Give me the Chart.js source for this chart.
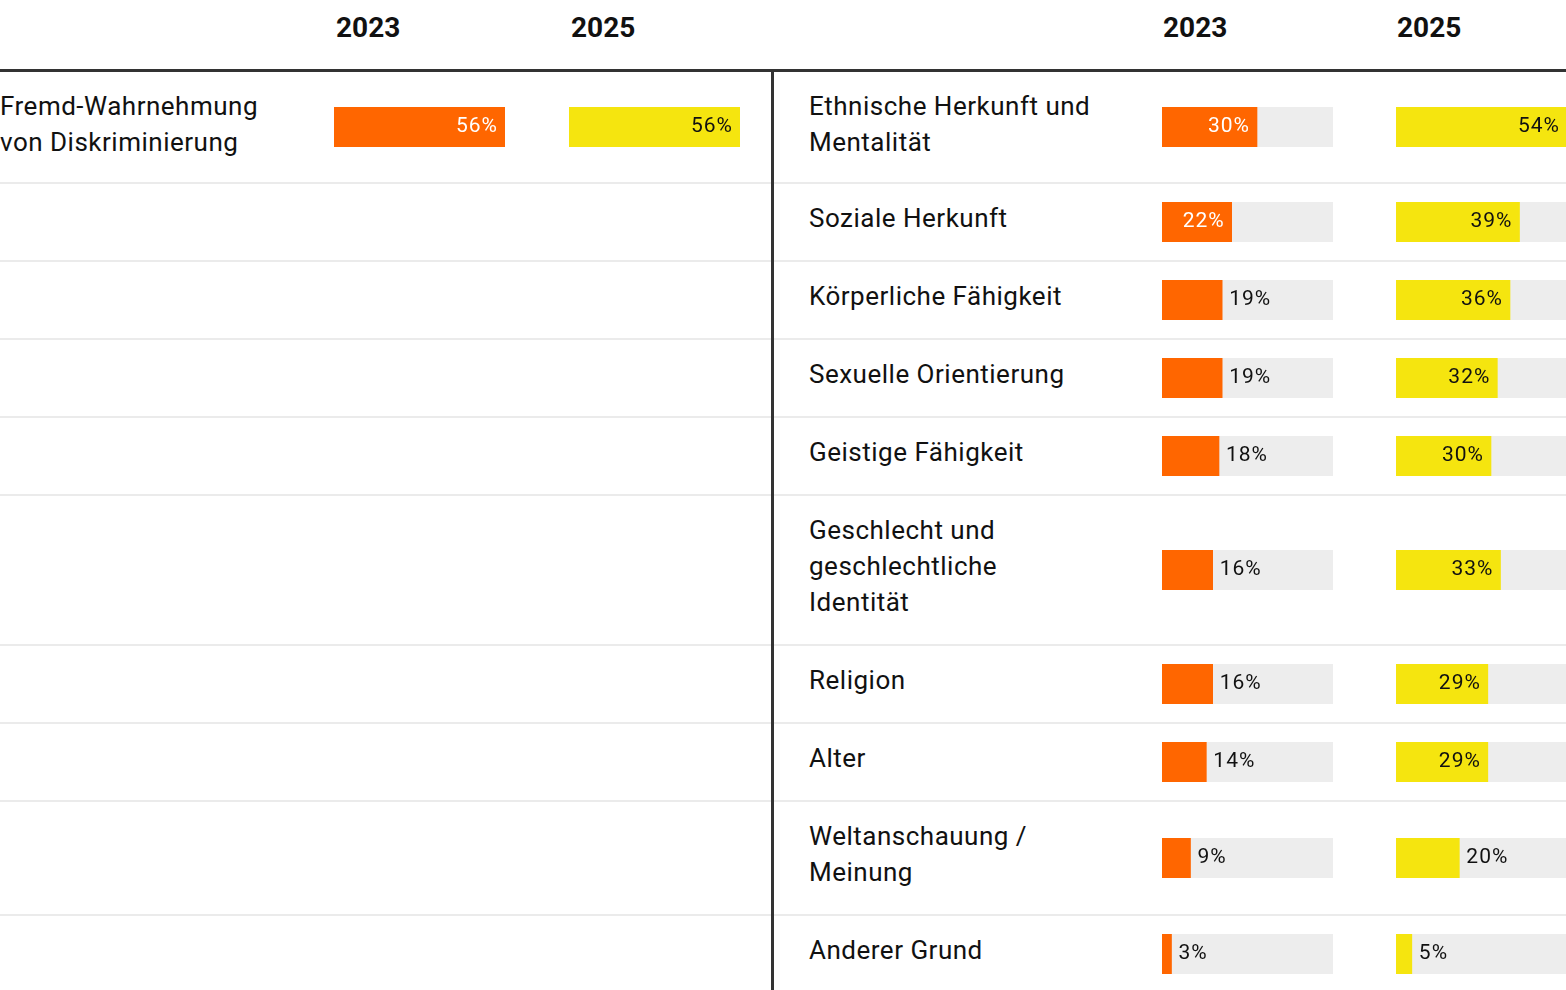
<!DOCTYPE html>
<html lang="de">
<head>
<meta charset="utf-8">
<title>Diskriminierung 2023 / 2025</title>
<script src="https://cdn.jsdelivr.net/npm/chart.js@4"></script>
<style>
    html, body {
        margin: 0;
        padding: 0;
        background: #fff;
        overflow: hidden;
    }
    body {
        font-family: Roboto, "Noto Sans", sans-serif;
        color: #111;
    }
    table {
        width: 1566px;
        table-layout: fixed;
        border-collapse: separate;
        border-spacing: 0;
    }
    th {
        height: 69px;
        padding: 0;
        text-align: left;
        vertical-align: top;
        font-size: 28px;
        font-weight: 700;
        line-height: 56px;
        border-bottom: 3px solid #333;
    }
    th.jahr { padding-left: 34px; }
    td {
        padding: 16px 0 24px 0;
        vertical-align: middle;
        border-bottom: 2px solid #ebebeb;
        font-size: 26px;
        line-height: 36px;
        letter-spacing: 0.5px;
        white-space: nowrap;
    }
    tbody tr:first-child td { padding-bottom: 22px; }
    td.label-rechts { padding-left: 35px; }
    td.balken, tbody tr:first-child td.balken { padding: 0 0 0 32px; }
    td.balken canvas { display: block; }
    td.trenner, th.trenner {
        background: #333;
        border-bottom: none;
        padding: 0;
    }
    th.trenner { background: #fff; border-bottom: 3px solid #333; }
</style>
</head>
<body>
<table id="tabelle">
    <colgroup>
        <col style="width:302px">
        <col style="width:235px">
        <col style="width:234px">
        <col style="width:3px">
        <col style="width:356px">
        <col style="width:234px">
        <col style="width:202px">
    </colgroup>
    <thead><tr id="kopf"></tr></thead>
    <tbody id="zeilen"></tbody>
</table>

<script>
// Daten
const jahre = ['2023', '2025'];

const kategorienLinks = ['Fremd-Wahrnehmung\nvon Diskriminierung'];
const werteLinks2023 = [56];
const werteLinks2025 = [56];

const kategorienRechts = [
    'Ethnische Herkunft und\nMentalität',
    'Soziale Herkunft',
    'Körperliche Fähigkeit',
    'Sexuelle Orientierung',
    'Geistige Fähigkeit',
    'Geschlecht und\ngeschlechtliche\nIdentität',
    'Religion',
    'Alter',
    'Weltanschauung /\nMeinung',
    'Anderer Grund'
];
const werteRechts2023 = [30, 22, 19, 19, 18, 16, 16, 14, 9, 3];
const werteRechts2025 = [54, 39, 36, 32, 30, 33, 29, 29, 20, 5];

// Farben
const orange = '#ff6600';
const gelb = '#f5e50f';
const spur = '#ededed';

// Skalen-Maximum je Tabelle (größter Wert füllt die ganze Spur)
const maxLinks = Math.max(...werteLinks2023, ...werteLinks2025);
const maxRechts = Math.max(...werteRechts2023, ...werteRechts2025);

// Plugin für die Prozent-Beschriftung
const prozentPlugin = {
    id: 'prozent',
    afterDatasetsDraw(chart, args, opts) {
        const ctx = chart.ctx;
        const bar = chart.getDatasetMeta(0).data[0];
        const wert = chart.data.datasets[0].data[0];
        const breite = bar.x - bar.base;
        ctx.save();
        ctx.font = '21px Roboto, "Noto Sans", sans-serif';
        ctx.letterSpacing = '1px';
        ctx.textBaseline = 'middle';
        if (breite > 66) {
            ctx.textAlign = 'right';
            ctx.fillStyle = opts.innen;
            ctx.fillText(wert + '%', bar.x - 7, bar.y);
        } else {
            ctx.textAlign = 'left';
            ctx.fillStyle = '#111';
            ctx.fillText(wert + '%', bar.x + 7, bar.y);
        }
        ctx.restore();
    }
};

// Funktion für einen einzelnen Balken
function zeichneBalken(canvas, wert, max, farbe, textFarbe) {
    new Chart(canvas.getContext('2d'), {
        type: 'bar',
        data: {
            labels: [''],
            datasets: [
                { data: [wert], backgroundColor: farbe, order: 0 },
                { data: [max], backgroundColor: spur, order: 1 }
            ]
        },
        options: {
            indexAxis: 'y',
            responsive: false,
            animation: false,
            events: [],
            grouped: false,
            barPercentage: 1,
            categoryPercentage: 1,
            borderWidth: 0,
            layout: { padding: 0 },
            scales: {
                x: { display: false, min: 0, max: max },
                y: { display: false }
            },
            plugins: {
                legend: { display: false },
                tooltip: { enabled: false },
                prozent: { innen: textFarbe }
            }
        },
        plugins: [prozentPlugin]
    });
}

// Funktion für eine Zelle mit Balken
function balkenZelle(tr, wert, max, farbe, textFarbe) {
    const td = document.createElement('td');
    td.className = 'balken';
    tr.appendChild(td);
    if (wert !== undefined) {
        const canvas = document.createElement('canvas');
        canvas.width = 171;
        canvas.height = 40;
        td.appendChild(canvas);
        zeichneBalken(canvas, wert, max, farbe, textFarbe);
    }
}

// Funktion für eine Textzelle
function textZelle(tr, text, klasse) {
    const td = document.createElement('td');
    if (klasse) td.className = klasse;
    if (text) {
        text.split('\n').forEach((zeile, i) => {
            if (i > 0) td.appendChild(document.createElement('br'));
            td.appendChild(document.createTextNode(zeile));
        });
    }
    tr.appendChild(td);
}

// Kopfzeile
const kopf = document.getElementById('kopf');
kopf.innerHTML = '<th></th>' +
    jahre.map(j => '<th class="jahr">' + j + '</th>').join('') +
    '<th class="trenner"></th><th></th>' +
    jahre.map(j => '<th class="jahr" style="padding-left:33px">' + j + '</th>').join('');

// Tabellenzeilen
const tbody = document.getElementById('zeilen');
kategorienRechts.forEach((kat, i) => {
    const tr = document.createElement('tr');
    tbody.appendChild(tr);
    textZelle(tr, kategorienLinks[i]);
    balkenZelle(tr, werteLinks2023[i], maxLinks, orange, '#fff');
    balkenZelle(tr, werteLinks2025[i], maxLinks, gelb, '#111');
    const trenner = document.createElement('td');
    trenner.className = 'trenner';
    tr.appendChild(trenner);
    textZelle(tr, kat, 'label-rechts');
    balkenZelle(tr, werteRechts2023[i], maxRechts, orange, '#fff');
    balkenZelle(tr, werteRechts2025[i], maxRechts, gelb, '#111');
});
</script>
</body>
</html>
